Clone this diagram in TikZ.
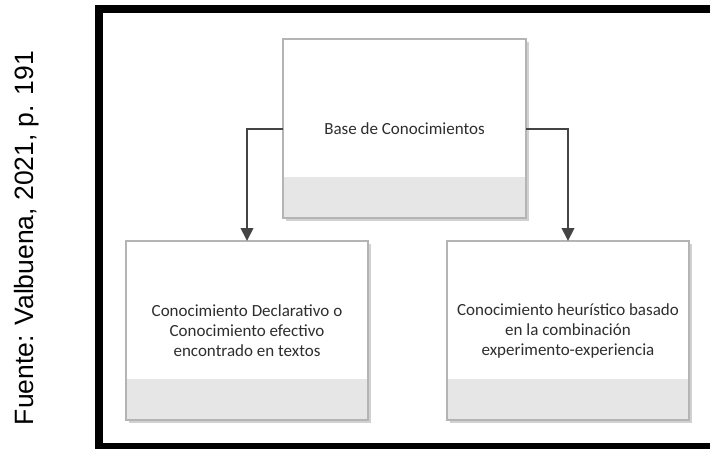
\documentclass[tikz,border=0pt]{standalone}
\usepackage{fontspec}
\setmainfont{Carlito}
\newfontfamily\sourcefont{Liberation Sans}
\usetikzlibrary{arrows.meta,shadows}

\definecolor{boxline}{HTML}{B4B4B4}
\definecolor{bandgray}{HTML}{E6E6E6}
\definecolor{arrowgray}{HTML}{444444}
\definecolor{textgray}{HTML}{2E2E2E}

\tikzset{
  kbox/.style={
    draw=boxline, line width=1.1pt, fill=white,
    minimum width=242pt, minimum height=179pt,
    inner sep=0pt, outer sep=0pt,
    align=center, text=textgray,
    font=\fontsize{17}{20}\selectfont,
    drop shadow={shadow xshift=2.5pt, shadow yshift=-2.5pt, fill=black!18, opacity=1},
    path picture={
      \fill[bandgray] (path picture bounding box.south west)
        rectangle ([yshift=41pt]path picture bounding box.south east);
    }
  },
  conn/.style={
    draw=arrowgray, line width=2pt,
    -{Triangle[width=12.5pt,length=13pt]}
  }
}

\begin{document}
\begin{tikzpicture}[x=1pt,y=-1pt]
  \useasboundingbox (0,0) rectangle (710,448);
  \clip (0,0) rectangle (710,448);

  % outer black frame (its right side runs past the page)
  \draw[line width=8pt] (99,9) rectangle (724,447);

  % source note, read bottom to top
  \node[rotate=90, anchor=base, font=\sourcefont\fontsize{26.5}{30}\selectfont]
    (fuente) at (33,238) {Fuente: Valbuena, 2021, p. 191};

  % knowledge boxes
  \node[kbox, minimum width=243pt] (base) at (404.5,128.5) {Base de Conocimientos};
  \node[kbox] (decl) at (247,330.5)
    {Conocimiento Declarativo o\\Conocimiento efectivo\\encontrado en textos};
  \node[kbox] (heur) at (568,330.5)
    {Conocimiento heurístico basado\\en la combinación\\experimento-experiencia};

  % connectors
  \draw[conn] (base.west) -| (decl.north);
  \draw[conn] (base.east) -| (heur.north);
\end{tikzpicture}
\end{document}
